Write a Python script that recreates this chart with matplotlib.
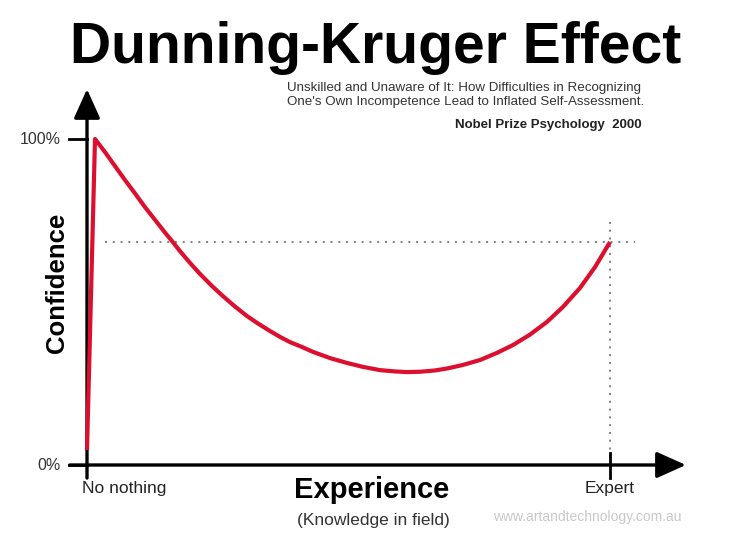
import numpy as np
import matplotlib
matplotlib.use("Agg")
import matplotlib.pyplot as plt

plt.rcParams["font.family"] = ["Liberation Sans", "DejaVu Sans"]

# curve: experience (0 = no nothing, 1 = expert), confidence (0..1)
experience = [0.0000, 0.0153, 0.0344, 0.0535, 0.0727, 0.0918, 0.1109, 0.1300, 0.1491,
              0.1625, 0.1778, 0.1969, 0.2161, 0.2390, 0.2600, 0.2830, 0.3059, 0.3250,
              0.3499, 0.3690, 0.3881, 0.4111, 0.4321, 0.4646, 0.4971, 0.5277, 0.5602,
              0.5889, 0.6119, 0.6367, 0.6654, 0.6883, 0.7189, 0.7514, 0.7839, 0.8145,
              0.8470, 0.8795, 0.9101, 0.9426, 0.9713, 1.0000]
confidence = [0.046, 1.000, 0.960, 0.917, 0.874, 0.833, 0.791, 0.752, 0.713,
              0.687, 0.656, 0.620, 0.586, 0.549, 0.518, 0.486, 0.457, 0.436,
              0.411, 0.393, 0.377, 0.362, 0.347, 0.328, 0.313, 0.301, 0.291,
              0.287, 0.285, 0.286, 0.290, 0.296, 0.307, 0.322, 0.344, 0.368,
              0.400, 0.439, 0.485, 0.543, 0.607, 0.684]

y_ticks = [0.0, 1.0]
y_labels = ["0%", "100%"]
x_ticks = [0.0, 1.0]
x_labels = ["No nothing", "Expert"]
expert_level = 0.684

title = "Dunning-Kruger Effect"
subtitle = ("Unskilled and Unaware of It: How Difficulties in Recognizing\n"
            "One's Own Incompetence Lead to Inflated Self-Assessment.")
source = "Nobel Prize Psychology  2000"
watermark = "www.artandtechnology.com.au"

fig = plt.figure(figsize=(7.4, 5.55), dpi=100)
ax = fig.add_axes([0, 0, 1, 1])
ax.set_xlim(-87 / 523, (740 - 87) / 523)
ax.set_ylim(-(555 - 465) / 326, 465 / 326)
ax.set_axis_off()

# dotted guide lines
ax.plot([0.035, 1.048], [expert_level, expert_level], color="#808080",
        lw=1.4, linestyle=(0, (1, 3)))
ax.plot([1.0, 1.0], [0.0, 0.76], color="#808080", lw=1.4, linestyle=(0, (1, 3)))

# the curve
ax.plot(experience, confidence, color="#dc0f2e", lw=3.0, solid_joinstyle="round",
        solid_capstyle="butt", zorder=3)

# axes with arrows
arrow = dict(arrowstyle="-|>,head_length=1.0,head_width=0.45", lw=2.4,
             color="black", shrinkA=0, shrinkB=0, mutation_scale=18)
ax.annotate("", xy=(0, 1.153), xytext=(0, -0.04), arrowprops=arrow, zorder=2)
ax.annotate("", xy=(1.145, 0), xytext=(-0.033, 0), arrowprops=arrow, zorder=2)

# ticks
for t in y_ticks:
    ax.plot([-0.035, 0], [t, t], color="black", lw=2.0)
ax.plot([1.0, 1.0], [-0.04, 0.036], color="black", lw=2.0)

for t, lab in zip(y_ticks, y_labels):
    ax.text(-0.05, t, lab, ha="right", va="center", fontsize=11.5, color="#333333")
ax.text(-0.01, -0.05, x_labels[0], ha="left", va="top", fontsize=12.5, color="#222222")
ax.text(x_ticks[1], -0.05, x_labels[1], ha="center", va="top", fontsize=12.5,
        color="#222222")

# titles and labels
fig.text(376 / 740, 1 - 63 / 555, title, ha="center", va="baseline", fontsize=41,
         fontweight="bold")
fig.text(287 / 740, 1 - 95 / 555, subtitle, ha="left", va="center", fontsize=9.6,
         color="#333333", linespacing=1.12)
fig.text(642 / 740, 1 - 125 / 555, source, ha="right", va="center", fontsize=9.5,
         fontweight="bold", color="#222222")
fig.text(57 / 740, 1 - 283 / 555, "Confidence", ha="center", va="center",
         rotation=90, fontsize=18.5, fontweight="bold")
fig.text(372 / 740, 1 - 490 / 555, "Experience", ha="center", va="center",
         fontsize=21, fontweight="bold")
fig.text(373 / 740, 1 - 520 / 555, "(Knowledge in field)", ha="center", va="center",
         fontsize=12.5, color="#333333")
fig.text(587 / 740, 1 - 517 / 555, watermark, ha="center", va="center",
         fontsize=10, color="#c8c8c8")

fig.savefig("out.png", dpi=100)
